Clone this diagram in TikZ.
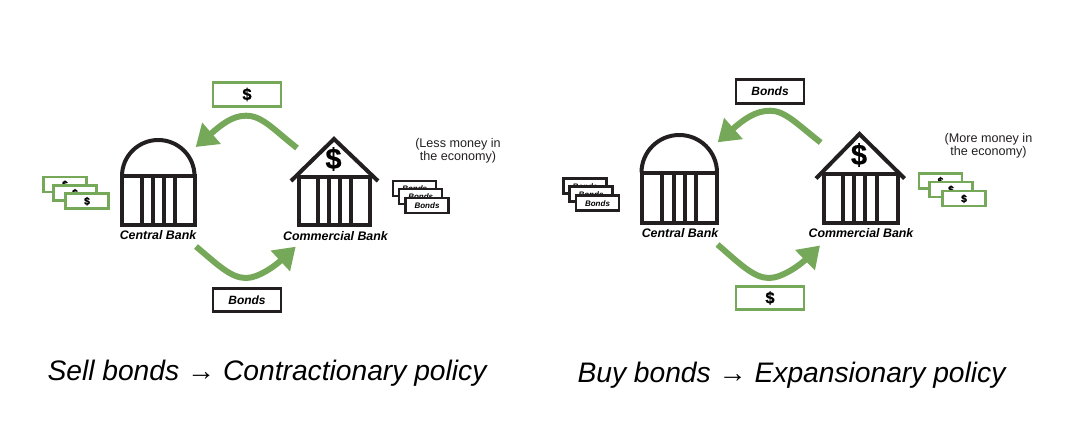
\documentclass[tikz,border=0pt]{standalone}
\usepackage{fontspec}
\setmainfont[BoldFeatures={FakeBold=0.6}]{Liberation Sans}
\usetikzlibrary{arrows.meta}
\definecolor{grn}{HTML}{76A85A}
\definecolor{ink}{HTML}{231F20}
\tikzset{
  wall/.style={draw=ink,line width=4pt,line cap=butt,line join=miter},
  flow/.style={draw=grn,line width=6pt,-{Triangle[length=21pt,width=27pt,fill=grn]}},
  bigbill/.style={draw=#1,fill=white,line width=2.8pt,inner sep=0pt,minimum width=68pt,minimum height=23.5pt,text=black},
  bill/.style={draw=#1,fill=white,line width=2.4pt,inner sep=0pt,minimum width=43pt,minimum height=15pt,text=black},
  banklabel/.style={font=\fontsize{12.4}{14}\selectfont\bfseries\itshape,text=black,inner sep=0pt},
  bigbonds/.style={font=\fontsize{12}{13}\selectfont\bfseries\itshape},
  bigdollar/.style={font=\fontsize{16.5}{18}\selectfont\bfseries},
  smallbonds/.style={font=\fontsize{8}{9}\selectfont\bfseries\itshape,text depth=0pt,text height=6pt},
  smalldollar/.style={font=\fontsize{10.5}{11}\selectfont\bfseries,text depth=0pt,text height=7.5pt},
  note/.style={font=\fontsize{12.6}{13}\selectfont,align=center,text=ink,inner sep=0pt},
  headline/.style={font=\fontsize{28.2}{30}\selectfont\itshape,text=black,inner sep=0pt},
  roofdollar/.style={font=\fontsize{29}{32}\selectfont\bfseries,text=black,inner sep=0pt}
}
% central bank: left, right, top, bar, bottom, four columns
\newcommand{\centralbank}[9]{%
  \draw[wall] (#1,#5) rectangle (#2,#4);
  \draw[wall] (#1,#4) arc[start angle=180,end angle=360,x radius={(#2-#1)/2},y radius={#4-#3}];
  \foreach \cx in {#6,#7,#8,#9} \draw[wall] (\cx,#4) -- (\cx,#5);
}
% commercial bank: apex x, apex y, eave l, eave r, eave y, bar y, left, right, bottom; columns via \colset
\newcommand{\commercialbank}[9]{%
  \draw[wall] (#7,#9) rectangle (#8,#6);
  \draw[wall] (#3,#5) -- (#1,#2) -- (#4,#5);
  \draw[wall] (#3+6,#6) -- (#4-6,#6);
  \foreach \cx in \colset \draw[wall] (\cx,#6) -- (\cx,#9);
}
\begin{document}
\begin{tikzpicture}[x=1pt,y=-1pt]
\useasboundingbox (0,0) rectangle (1078,426);
% ---------- left diagram
\centralbank{122}{194.5}{140}{176}{224.5}{142}{152.5}{163.5}{174.5}
\node[banklabel] (cb1) at (158,235.5) {Central Bank};
\def\colset{318,328.5,339.5,350.5}
\commercialbank{334}{139}{291}{378}{181}{176.5}{299}{370}{224.5}
\node[roofdollar] (d1) at (333.5,159) {\$};
\node[banklabel] (kb1) at (335.5,236) {Commercial Bank};
\node[bigbill=grn,bigdollar] (top1) at (247,94.5) {\$};
\node[bigbill=ink,bigbonds] (bot1) at (247,300) {Bonds};
\coordinate (a1s) at (297,148);
\coordinate (a1p) at (246,115.7);
\coordinate (a1e) at (195.7,147);
\draw[flow] (a1s) .. controls (273,129) and (262,115.7) .. (a1p) .. controls (232,115.7) and (221,125) .. (a1e);
\coordinate (b1s) at (196,246.5);
\coordinate (b1p) at (246,278);
\coordinate (b1e) at (295.7,246.7);
\draw[flow] (b1s) .. controls (218,265) and (231,278) .. (b1p) .. controls (259,278) and (276,265) .. (b1e);
\node[bill=grn,smalldollar] (m11) at (65,184.5) {\$};
\node[bill=grn,smalldollar] (m12) at (75,193) {\$};
\node[bill=grn,smalldollar] (m13) at (87,201) {\$};
\node[bill=ink,smallbonds] (s11) at (414.7,188.5) {Bonds};
\node[bill=ink,smallbonds] (s12) at (420.7,196.5) {Bonds};
\node[bill=ink,smallbonds] (s13) at (427,205.5) {Bonds};
\node[note] (n1) at (458,151) {(Less money in\\the economy)};
\node[headline] (h1) at (267,373.5) {Sell bonds → Contractionary policy};
% ---------- right diagram
\centralbank{641.5}{717}{135}{172.5}{222.5}{662}{673.5}{684.5}{696}
\node[banklabel] (cb2) at (680,233.5) {Central Bank};
\def\colset{842.5,853.5,865,876.5}
\commercialbank{859.5}{134}{816}{904.5}{178.5}{173.5}{823.5}{898}{223}
\node[roofdollar] (d2) at (859,155) {\$};
\node[banklabel] (kb2) at (861,233.5) {Commercial Bank};
\node[bigbill=ink,bigbonds] (top2) at (770,91.5) {Bonds};
\node[bigbill=grn,bigdollar] (bot2) at (770,298) {\$};
\coordinate (a2s) at (820.7,142.5);
\coordinate (a2p) at (770,110.7);
\coordinate (a2e) at (717.7,142.3);
\draw[flow] (a2s) .. controls (797,124) and (785,110.7) .. (a2p) .. controls (755,110.7) and (743,120) .. (a2e);
\coordinate (b2s) at (717.5,244.5);
\coordinate (b2p) at (769,278);
\coordinate (b2e) at (820,245.5);
\draw[flow] (b2s) .. controls (740,264) and (754,278) .. (b2p) .. controls (782,278) and (800,265) .. (b2e);
\node[bill=ink,smallbonds] (s21) at (585,186) {Bonds};
\node[bill=ink,smallbonds] (s22) at (591,194) {Bonds};
\node[bill=ink,smallbonds] (s23) at (597.5,203) {Bonds};
\node[bill=grn,smalldollar] (m21) at (940.5,181) {\$};
\node[bill=grn,smalldollar] (m22) at (951,189.5) {\$};
\node[bill=grn,smalldollar] (m23) at (964,198.5) {\$};
\node[note] (n2) at (988.5,146) {(More money in\\the economy)};
\node[headline] (h2) at (791.5,375.5) {Buy bonds → Expansionary policy};
\end{tikzpicture}
\end{document}
